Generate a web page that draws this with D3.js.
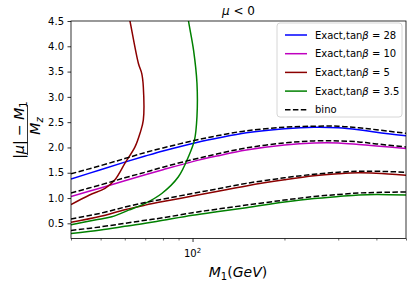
<!DOCTYPE html>
<html>
<head>
<meta charset="utf-8">
<script src="https://cdn.jsdelivr.net/npm/d3@7"></script>
<style>
  body { margin: 0; background: #fff; }
  svg { font-family: "DejaVu Sans", sans-serif; }
</style>
</head>
<body>
<svg id="chart" width="415" height="285"></svg>
<script>
// M1 grid for the flat branches
const m1 = [40, 50, 60, 70, 80, 100, 120, 150, 200, 250, 300, 350, 400, 500];

// exact solutions (low branch)
const exact28 = [1.375, 1.56, 1.71, 1.83, 1.93, 2.08, 2.18, 2.29, 2.37, 2.40, 2.39, 2.35, 2.30, 2.23];
const exact10 = [1.03, 1.20, 1.34, 1.46, 1.56, 1.72, 1.83, 1.95, 2.05, 2.09, 2.09, 2.06, 2.03, 1.98];
const exact5 = [0.52, 0.64, 0.77, 0.86, 0.93, 1.04, 1.13, 1.24, 1.36, 1.44, 1.48, 1.50, 1.49, 1.45];
const exact35 = [0.30, 0.37, 0.44, 0.50, 0.56, 0.66, 0.73, 0.81, 0.92, 0.99, 1.03, 1.06, 1.07, 1.06];

// bino approximation
const bino28 = [1.48, 1.64, 1.78, 1.90, 1.99, 2.13, 2.23, 2.33, 2.40, 2.42, 2.42, 2.39, 2.35, 2.28];
const bino10 = [1.10, 1.26, 1.40, 1.51, 1.61, 1.76, 1.87, 1.99, 2.09, 2.13, 2.13, 2.11, 2.07, 2.01];
const bino5 = [0.585, 0.70, 0.82, 0.91, 0.98, 1.09, 1.18, 1.29, 1.40, 1.47, 1.51, 1.53, 1.53, 1.51];
const bino35 = [0.36, 0.43, 0.50, 0.56, 0.61, 0.71, 0.78, 0.86, 0.96, 1.03, 1.07, 1.10, 1.11, 1.12];

// steep branches for tanb = 5 and 3.5
const steep5M = [40, 46, 51.7, 55.7, 60.1, 64.8, 67.3, 69, 69, 68.2, 66.5, 62.4, 61];
const steep5V = [0.87, 1.06, 1.19, 1.36, 1.69, 2.01, 2.28, 2.54, 3.2, 3.46, 3.66, 4.5, 4.8];
const steep35M = [40, 47.9, 54.4, 61.7, 70, 79.3, 89.9, 97, 101.5, 103.4, 103.4, 100.8, 97, 96];
const steep35V = [0.47, 0.565, 0.63, 0.76, 0.895, 1.09, 1.42, 1.82, 2.15, 2.61, 3.27, 3.92, 4.5, 4.7];

const yTicks = [0.5, 1.0, 1.5, 2.0, 2.5, 3.0, 3.5, 4.0, 4.5];
const xMinor = [40, 50, 60, 70, 80, 90, 200, 300, 400, 500];

const margin = { left: 71, right: 406, top: 21, bottom: 238.5 };

const svg = d3.select('#chart');

const x = d3.scaleLog().domain([40, 500]).range([margin.left, margin.right]);
const y = d3.scaleLinear().domain([0.2, 4.5]).range([margin.bottom, margin.top]);

svg.append('defs').append('clipPath').attr('id', 'plotclip')
  .append('rect')
  .attr('x', margin.left).attr('y', margin.top)
  .attr('width', margin.right - margin.left)
  .attr('height', margin.bottom - margin.top);

const line = d3.line()
  .x(d => x(d[0]))
  .y(d => y(d[1]))
  .curve(d3.curveCatmullRom.alpha(0.5));

const zip = (xs, ys) => xs.map((v, i) => [v, ys[i]]);

const series = [
  { m: m1, v: exact28, color: '#0000ff' },
  { m: m1, v: exact10, color: '#bf00bf' },
  { m: m1, v: exact5, color: '#8b0000' },
  { m: m1, v: exact35, color: '#008000' },
  { m: steep5M, v: steep5V, color: '#8b0000' },
  { m: steep35M, v: steep35V, color: '#008000' },
  { m: m1, v: bino28, color: '#000', dash: '5.5,2.4' },
  { m: m1, v: bino10, color: '#000', dash: '5.5,2.4' },
  { m: m1, v: bino5, color: '#000', dash: '5.5,2.4' },
  { m: m1, v: bino35, color: '#000', dash: '5.5,2.4' }
];

const plot = svg.append('g').attr('clip-path', 'url(#plotclip)');
plot.selectAll('path')
  .data(series)
  .enter()
  .append('path')
  .attr('d', d => line(zip(d.m, d.v)))
  .attr('fill', 'none')
  .attr('stroke', d => d.color)
  .attr('stroke-width', 1.5)
  .attr('stroke-dasharray', d => d.dash || null);

// axes
const yAxis = d3.axisLeft(y).tickValues(yTicks).tickFormat(d3.format('.1f'))
  .tickSizeInner(3.5).tickSizeOuter(0).tickPadding(3.5);
const gy = svg.append('g').attr('transform', 'translate(' + margin.left + ',0)').call(yAxis);
gy.select('.domain').remove();
gy.selectAll('text').attr('font-size', 10).attr('fill', '#000').attr('font-family', '"DejaVu Sans", sans-serif');
gy.selectAll('line').attr('stroke-width', 0.8);

const xAxis = d3.axisBottom(x).tickValues([100]).tickFormat(() => '')
  .tickSizeInner(3.5).tickSizeOuter(0);
const gx = svg.append('g').attr('transform', 'translate(0,' + margin.bottom + ')').call(xAxis);
gx.select('.domain').remove();
gx.selectAll('line').attr('stroke-width', 0.8);

const xMinorAxis = d3.axisBottom(x).tickValues(xMinor).tickFormat(() => '')
  .tickSizeInner(2).tickSizeOuter(0);
const gxm = svg.append('g').attr('transform', 'translate(0,' + margin.bottom + ')').call(xMinorAxis);
gxm.select('.domain').remove();
gxm.selectAll('line').attr('stroke-width', 0.6);

// 10^2 label
const lab = svg.append('text')
  .attr('x', x(100)).attr('y', 257)
  .attr('text-anchor', 'middle').attr('font-size', 10);
lab.append('tspan').text('10');
lab.append('tspan').attr('dy', -4).attr('font-size', 7).text('2');

// frame
svg.append('rect')
  .attr('x', margin.left).attr('y', margin.top)
  .attr('width', margin.right - margin.left)
  .attr('height', margin.bottom - margin.top)
  .attr('fill', 'none').attr('stroke', '#000').attr('stroke-width', 0.8);

// title
const title = svg.append('text')
  .attr('x', (margin.left + margin.right) / 2).attr('y', 15)
  .attr('text-anchor', 'middle').attr('font-size', 12);
title.append('tspan').attr('font-style', 'italic').text('μ');
title.append('tspan').text(' < 0');

// x label
const xl = svg.append('text')
  .attr('x', 238).attr('y', 277)
  .attr('text-anchor', 'middle').attr('font-size', 14);
xl.append('tspan').attr('font-style', 'italic').text('M');
xl.append('tspan').attr('font-size', 10).attr('dy', 3).text('1');
xl.append('tspan').attr('dy', -3).text('(');
xl.append('tspan').attr('font-style', 'italic').text('GeV');
xl.append('tspan').text(')');

// y label as a fraction
const yl = svg.append('g').attr('transform', 'translate(0,130) rotate(-90)');
const num = yl.append('text').attr('x', 0).attr('y', 24)
  .attr('text-anchor', 'middle').attr('font-size', 14);
num.append('tspan').text('|');
num.append('tspan').attr('font-style', 'italic').text('μ');
num.append('tspan').text('| − ');
num.append('tspan').attr('font-style', 'italic').text('M');
num.append('tspan').attr('font-size', 10).attr('dy', 3).text('1');
yl.append('line').attr('x1', -25).attr('x2', 25).attr('y1', 27.5).attr('y2', 27.5)
  .attr('stroke', '#000').attr('stroke-width', 0.8);
const den = yl.append('text').attr('x', 4).attr('y', 40)
  .attr('text-anchor', 'middle').attr('font-size', 14);
den.append('tspan').attr('font-style', 'italic').text('M');
den.append('tspan').attr('font-size', 10).attr('dy', 3).attr('font-style', 'italic').text('z');

// legend
const legendItems = [
  { label: '28', color: '#0000ff' },
  { label: '10', color: '#bf00bf' },
  { label: '5', color: '#8b0000' },
  { label: '3.5', color: '#008000' },
  { label: 'bino', color: '#000', dash: '5.5,2.4' }
];
const lg = svg.append('g');
lg.append('rect')
  .attr('x', 277).attr('y', 23).attr('width', 125).attr('height', 94)
  .attr('rx', 3).attr('fill', '#fff').attr('fill-opacity', 0.8)
  .attr('stroke', '#cccccc').attr('stroke-width', 0.8);
const rows = lg.selectAll('.leg').data(legendItems).enter().append('g')
  .attr('transform', (d, i) => 'translate(0,' + (35 + i * 18.7) + ')');
rows.append('line')
  .attr('x1', 285).attr('x2', 307).attr('y1', 0).attr('y2', 0)
  .attr('stroke', d => d.color).attr('stroke-width', 1.5)
  .attr('stroke-dasharray', d => d.dash || null);
rows.each(function (d) {
  const t = d3.select(this).append('text').attr('x', 315).attr('y', 3.6).attr('font-size', 10);
  if (d.label === 'bino') {
    t.text('bino');
  } else {
    t.append('tspan').text('Exact,tan');
    t.append('tspan').attr('font-style', 'italic').text('β');
    t.append('tspan').text(' = ' + d.label);
  }
});
</script>
</body>
</html>
